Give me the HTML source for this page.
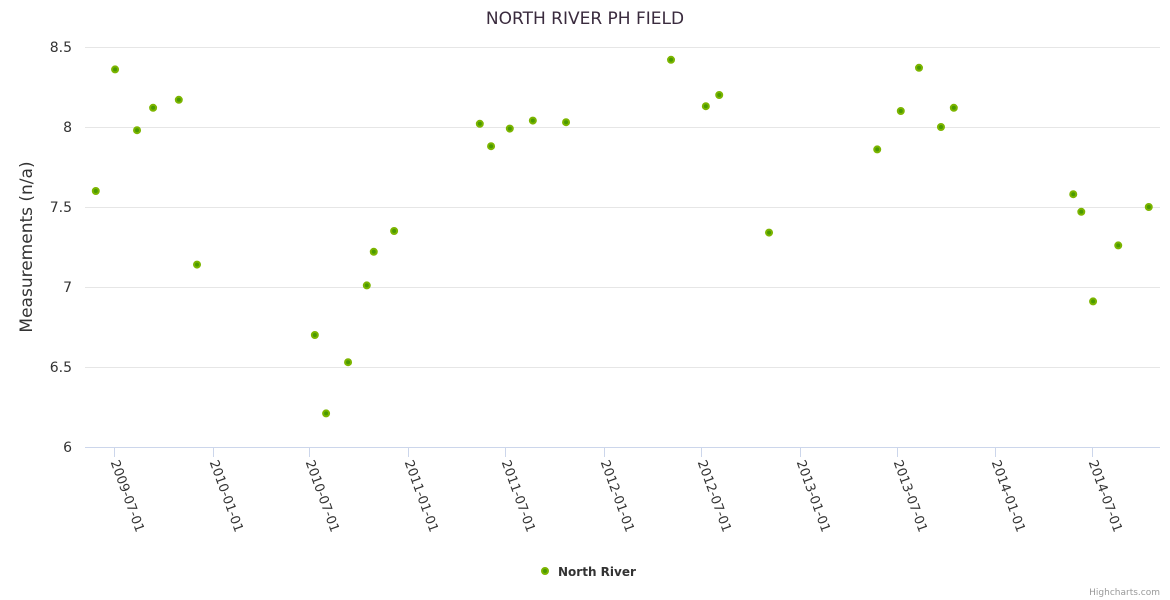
<!DOCTYPE html>
<html><head><meta charset="utf-8"><style>
body{margin:0;background:#fff;font-family:"DejaVu Sans","Liberation Sans",sans-serif}
svg{display:block;font-family:"DejaVu Sans","Liberation Sans",sans-serif}
</style></head><body>
<svg id="chart" width="1170" height="600">
<text x="585" y="24" text-anchor="middle" font-size="17" fill="#3a2b3e">NORTH RIVER PH FIELD</text>
<text transform="translate(32,247) rotate(-90)" text-anchor="middle" font-size="17" fill="#333">Measurements (n/a)</text>
<g id="grid"></g><g id="xaxis"></g><g id="pts"></g>
<g>
<circle cx="545" cy="571" r="3" fill="#4a9a00" stroke="#7cb500" stroke-width="2"/>
<text x="558" y="576" font-size="12" font-weight="bold" fill="#333">North River</text></g>
<text x="1160" y="595" text-anchor="end" font-size="9" fill="#999">Highcharts.com</text>
</svg>
<script>
const dates=["2009-05-28","2009-07-03","2009-08-13","2009-09-12","2009-10-30","2009-12-03","2010-07-11","2010-08-01","2010-09-11","2010-10-16","2010-10-29","2010-12-06","2011-05-15","2011-06-05","2011-07-10","2011-08-22","2011-10-23","2012-05-06","2012-07-10","2012-08-04","2012-11-05","2013-05-26","2013-07-09","2013-08-12","2013-09-22","2013-10-16","2014-05-27","2014-06-11","2014-07-03","2014-08-19","2014-10-15"];
const values=[7.6,8.36,7.98,8.12,8.17,7.14,6.7,6.21,6.53,7.01,7.22,7.35,8.02,7.88,7.99,8.04,8.03,8.42,8.13,8.2,7.34,7.86,8.1,8.37,8.0,8.12,7.58,7.47,6.91,7.26,7.5];
const yTicks=[6,6.5,7,7.5,8,8.5];
const xTicks=["2009-07-01","2010-01-01","2010-07-01","2011-01-01","2011-07-01","2012-01-01","2012-07-01","2013-01-01","2013-07-01","2014-01-01","2014-07-01"];
const NS="http://www.w3.org/2000/svg";
const t0=Date.parse("2009-07-01"),t1=Date.parse("2014-07-01");
const xs=d=>114+(Date.parse(d)-t0)/(t1-t0)*978;
const ys=v=>447-(v-6)*160;
function mk(tag,attrs,parent,txt){const e=document.createElementNS(NS,tag);for(const k in attrs)e.setAttribute(k,attrs[k]);if(txt!==undefined)e.textContent=txt;parent.appendChild(e);return e;}
const grid=document.getElementById('grid'),xa=document.getElementById('xaxis'),pts=document.getElementById('pts');
yTicks.forEach(v=>{
 const l=mk('line',{x1:85,x2:1160,y1:ys(v)+0.5,y2:ys(v)+0.5,stroke:v===6?'#ccd6eb':'#e6e6e6'},grid);
 
 
 const t=mk('text',{x:72,y:ys(v)+5,'text-anchor':'end','font-size':14,fill:'#333'},grid,String(v));
 
 
});
xTicks.forEach(d=>{
 const x=Math.round(xs(d))+0.5;
 const l=mk('line',{x1:x,x2:x,y1:447,y2:457,stroke:'#ccd6eb'},xa);
 
 
 const t=mk('text',{transform:`translate(${x-4},${462}) rotate(70)`,'font-size':13,fill:'#333'},xa,d);
 
 
});
dates.forEach((d,i)=>{
 const c=mk('circle',{cx:xs(d),cy:ys(values[i]),r:3,fill:'#4a9a00',stroke:'#7cb500','stroke-width':2},pts);
 
 
});
</script>
</body></html>
